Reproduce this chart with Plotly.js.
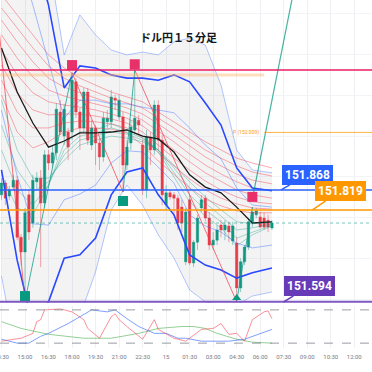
<!DOCTYPE html>
<html><head><meta charset="utf-8">
<script src="https://cdn.plot.ly/plotly-3.0.1.min.js"></script>
<style>html,body{margin:0;padding:0;background:#fff}#chart{width:372px;height:372px}</style>
</head><body><div id="chart"></div>
<script>
// ---- candle data (15-minute bars from 2024-03-14 13:30) ----
const firstCandle = Date.UTC(2024, 2, 14, 13, 30);
const openP  = [151.856,151.885,151.853,151.875,151.892,151.752,151.716,151.856,151.787,151.888,
                151.897,151.836,151.954,151.934,151.959,152.059,152.000,152.010,152.010,152.133,
                152.059,152.020,152.108,151.978,152.020,151.983,151.949,152.035,152.035,152.093,
                152.047,152.047,151.929,151.983,152.015,152.039,151.978,151.868,151.998,151.966,
                152.076,151.990,151.831,151.861,151.856,151.848,151.826,151.692,151.844,151.689,
                151.740,151.824,151.848,151.799,151.733,151.745,151.782,151.770,151.780,151.743,
                151.738,151.628,151.692,151.728,151.790,151.807,151.802,151.799,151.794,151.775];
const highP  = [151.897,151.892,151.878,151.905,151.902,151.760,151.824,151.868,151.905,151.912,
                151.917,151.966,151.966,151.978,152.081,152.088,152.079,152.020,152.155,152.142,
                152.069,152.118,152.118,152.039,152.027,151.995,152.059,152.064,152.113,152.101,
                152.101,152.059,151.990,152.039,152.162,152.052,151.990,152.015,152.010,152.088,
                152.088,152.003,151.880,151.868,151.863,151.856,151.844,151.824,151.856,151.745,
                151.807,151.856,151.856,151.814,151.765,151.782,151.794,151.794,151.790,151.790,
                151.752,151.701,151.733,151.799,151.826,151.824,151.814,151.812,151.807,151.794];
const lowP   = [151.844,151.831,151.844,151.868,151.745,151.684,151.596,151.745,151.775,151.868,
                151.679,151.824,151.917,151.922,151.941,152.003,151.978,151.941,151.990,152.044,
                151.966,152.010,151.978,151.966,151.929,151.917,151.937,152.020,152.020,152.064,
                152.039,151.863,151.917,151.966,152.003,152.003,151.856,151.848,151.929,151.954,
                151.966,151.831,151.819,151.844,151.807,151.770,151.765,151.684,151.684,151.679,
                151.721,151.814,151.790,151.721,151.721,151.733,151.752,151.745,151.740,151.733,
                151.594,151.618,151.684,151.721,151.777,151.799,151.775,151.770,151.765,151.770];
const closeP = [151.885,151.848,151.868,151.892,151.752,151.716,151.812,151.765,151.892,151.897,
                151.836,151.954,151.934,151.959,152.066,152.010,152.066,151.973,152.137,152.059,
                152.020,152.108,151.990,152.020,151.983,151.949,152.044,152.044,152.096,152.088,
                152.088,151.929,151.973,152.022,152.044,152.027,151.868,151.998,151.966,152.076,
                151.990,151.856,151.861,151.851,151.848,151.787,151.787,151.814,151.689,151.740,
                151.799,151.844,151.799,151.733,151.745,151.770,151.770,151.782,151.765,151.780,
                151.628,151.692,151.728,151.790,151.814,151.817,151.777,151.777,151.777,151.787];

// ---- indicator lines, read at hourly points ----
const indTimes = ['2024-03-14 13:30','2024-03-14 14:30','2024-03-14 15:30','2024-03-14 16:30','2024-03-14 17:30',
  '2024-03-14 18:30','2024-03-14 19:30','2024-03-14 20:30','2024-03-14 21:30','2024-03-14 22:30','2024-03-14 23:30',
  '2024-03-15 00:30','2024-03-15 01:30','2024-03-15 02:30','2024-03-15 03:30','2024-03-15 04:30','2024-03-15 05:30','2024-03-15 06:45'];
const smaMid  = [152.216,152.108,152.032,151.973,151.988,152.008,152.008,152.010,152.015,152.000,151.993,151.961,151.905,151.875,151.861,151.826,151.787,151.790];
const bbUp2   = [152.701,152.579,152.456,152.321,152.118,152.172,152.167,152.150,152.142,152.142,152.137,152.150,152.133,152.081,152.027,151.922,151.873,151.866];
const bbLo2   = [151.917,151.696,151.537,151.594,151.701,151.709,151.750,151.856,151.912,151.922,151.856,151.807,151.709,151.684,151.672,151.652,151.665,151.677];
const bbUp1   = [152.627,152.456,152.321,152.182,152.044,152.088,152.088,152.079,152.079,152.071,152.064,152.057,152.020,151.978,151.944,151.873,151.831,151.826];
const bbLo1   = [152.064,151.902,151.785,151.782,151.844,151.858,151.880,151.934,151.964,151.961,151.924,151.885,151.807,151.780,151.765,151.738,151.726,151.733];
const bbUp3   = [152.946,152.824,152.701,152.432,152.199,152.297,152.248,152.211,152.199,152.206,152.199,152.231,152.240,152.223,152.125,151.966,151.917,151.910];
const bbLo3   = [151.657,151.451,151.304,151.402,151.559,151.559,151.667,151.819,151.880,151.831,151.758,151.701,151.623,151.594,151.586,151.586,151.608,151.618];
const redRib1 = [152.346,152.297,152.248,152.199,152.167,152.142,152.125,152.108,152.096,152.084,152.059,152.035,152.010,151.986,151.966,151.946,151.934,151.922];
const redRib2 = [152.314,152.265,152.216,152.172,152.142,152.123,152.108,152.093,152.081,152.069,152.044,152.020,151.993,151.966,151.946,151.927,151.912,151.902];
const redRib3 = [152.284,152.231,152.182,152.142,152.120,152.106,152.093,152.081,152.069,152.054,152.030,152.003,151.976,151.949,151.927,151.907,151.892,151.883];
const redRib4 = [152.248,152.191,152.145,152.113,152.098,152.088,152.079,152.069,152.057,152.039,152.012,151.986,151.956,151.929,151.907,151.888,151.873,151.866];
const redRib5 = [152.211,152.150,152.106,152.084,152.076,152.071,152.064,152.054,152.044,152.025,151.995,151.966,151.937,151.910,151.888,151.868,151.856,151.848];
const redRib6 = [152.174,152.106,152.064,152.052,152.054,152.054,152.049,152.042,152.032,152.010,151.978,151.946,151.917,151.890,151.868,151.851,151.839,151.834];
const redRib7 = [152.137,152.059,152.020,152.020,152.032,152.037,152.035,152.030,152.020,151.995,151.959,151.927,151.895,151.868,151.848,151.834,151.824,151.821];
const redRib8 = [152.101,152.010,151.971,151.986,152.010,152.020,152.020,152.017,152.008,151.978,151.939,151.905,151.873,151.846,151.829,151.817,151.812,151.812];
const grnRib1 = [152.088,151.966,151.897,151.897,151.941,151.978,151.990,152.000,151.995,151.986,151.966,151.929,151.888,151.851,151.819,151.790,151.785,151.790];
const grnRib2 = [152.027,151.917,151.863,151.888,151.954,151.990,152.000,152.010,152.005,151.990,151.966,151.922,151.873,151.836,151.804,151.770,151.775,151.785];
const grnRib3 = [151.966,151.868,151.831,151.880,151.966,152.000,152.008,152.020,152.010,151.995,151.966,151.912,151.856,151.819,151.790,151.750,151.765,151.782];
const grnRib4 = [151.905,151.824,151.807,151.880,151.983,152.010,152.015,152.030,152.015,152.000,151.961,151.900,151.839,151.804,151.775,151.731,151.758,151.780];

// ---- zigzag pivots & projection ----
const zigTimes  = ['2024-03-14 13:15','2024-03-14 15:00','2024-03-14 18:00','2024-03-14 21:15','2024-03-14 22:00','2024-03-15 04:30','2024-03-15 05:30'];
const zigPrices = [152.301,151.596,152.155,151.863,152.162,151.594,151.826];
const projTimes  = ['2024-03-15 05:30','2024-03-15 08:15'];
const projPrices = [151.846,152.378];

// ---- pivot markers ----
const highMarkTimes  = ['2024-03-14 18:00','2024-03-14 22:00','2024-03-15 05:30'];
const highMarkPrices = [152.174,152.176,151.851];
const lowMarkTimes   = ['2024-03-14 15:00','2024-03-14 21:15'];
const lowMarkPrices  = [151.608,151.841];
const lowTriTimes    = ['2024-03-15 04:30'];
const lowTriPrices   = [151.603];

// ---- price levels ----
const levelBlue = 151.868, levelOrange = 151.819, levelPurple = 151.594, levelPink = 152.162;
const levelPeach = 152.150, levelP = 152.009, lastPrice = 151.787;
const levelLabels = ['151.868','151.819','151.594'];
const pLabel = 'P (152.009)';

// ---- oscillator ----
const oscRedTimes = ['2024-03-14 13:30','2024-03-14 14:45','2024-03-14 15:30','2024-03-14 15:45','2024-03-14 16:00','2024-03-14 16:15',
  '2024-03-14 17:15','2024-03-14 18:00','2024-03-14 18:45','2024-03-14 19:00','2024-03-14 19:45','2024-03-14 20:30','2024-03-14 20:45',
  '2024-03-14 21:00','2024-03-14 21:30','2024-03-14 22:30','2024-03-14 23:15','2024-03-14 23:30','2024-03-15 00:30','2024-03-15 01:15',
  '2024-03-15 02:15','2024-03-15 03:00','2024-03-15 03:30','2024-03-15 04:00','2024-03-15 04:30','2024-03-15 05:00','2024-03-15 05:30',
  '2024-03-15 06:15','2024-03-15 06:30','2024-03-15 06:45'];
const oscRed = [23.5,28.8,37.6,58.8,62.3,80,81.7,76.4,62.3,46.5,28.8,67.6,72.9,62.3,50,27,62.3,44.7,28.8,23.5,44.7,46.5,55.3,35.9,37.6,23.5,62.3,76.4,78.2,64.1];
const oscBlueTimes = ['2024-03-14 13:30','2024-03-14 14:30','2024-03-14 15:15','2024-03-14 16:00','2024-03-14 16:30','2024-03-14 17:45',
  '2024-03-14 18:30','2024-03-14 19:15','2024-03-14 20:15','2024-03-14 20:45','2024-03-14 21:30','2024-03-14 22:15','2024-03-14 23:15',
  '2024-03-15 00:00','2024-03-15 00:45','2024-03-15 01:15','2024-03-15 02:15','2024-03-15 04:00','2024-03-15 05:00','2024-03-15 06:00','2024-03-15 06:45'];
const oscBlue = [27,20,20,32.3,37.6,55.3,67.6,80,76.4,80,64.1,50,37.6,37.6,28.8,28.8,23.5,23.5,27,37.6,44.7];
const oscGreenTimes = ['2024-03-14 13:30','2024-03-14 14:45','2024-03-14 16:30','2024-03-14 18:45','2024-03-14 20:30','2024-03-14 22:15',
  '2024-03-14 23:30','2024-03-15 01:00','2024-03-15 01:45','2024-03-15 02:30','2024-03-15 03:15','2024-03-15 04:30','2024-03-15 05:30','2024-03-15 06:45'];
const oscGreen = [58.8,46.5,35.9,28.8,28.8,37.6,46.5,50,50,46.5,37.6,27,21.8,20];
const oscLevels = [80, 20];

// ---- time axis ----
const tickVals = ['2024-03-14 13:30','2024-03-14 15:00','2024-03-14 16:30','2024-03-14 18:00','2024-03-14 19:30','2024-03-14 21:00',
  '2024-03-14 22:30','2024-03-15 00:00','2024-03-15 01:30','2024-03-15 03:00','2024-03-15 04:30','2024-03-15 06:00',
  '2024-03-15 07:30','2024-03-15 09:00','2024-03-15 10:30','2024-03-15 12:00'];
const tickText = ['13:30','15:00','16:30','18:00','19:30','21:00','22:30','15','01:30','03:00','04:30','06:00','07:30','09:00','10:30','12:00'];
const xRange = ['2024-03-14 13:24:20','2024-03-15 13:07:50'];
const titleText = 'ドル円１５分足';

function fmt(ms){ return new Date(ms).toISOString().slice(0,16).replace('T',' '); }
const candleTimes = openP.map((_, i) => fmt(firstCandle + i*15*60000));

const traces = [];
function line(x, y, color, width, extra){ traces.push(Object.assign({type:'scatter', mode:'lines', x, y, line:{color, width}, hoverinfo:'skip', xaxis:'x', yaxis:'y'}, extra||{})); }

line(indTimes, bbUp3, 'rgba(41,98,255,0.35)', 1);
line(indTimes, bbLo3, 'rgba(41,98,255,0.35)', 1, {fill:'tonexty', fillcolor:'rgba(120,123,134,0.09)'});
[redRib1,redRib2,redRib3,redRib4,redRib5,redRib6,redRib7,redRib8].forEach(r => line(indTimes, r, 'rgba(242,54,69,0.42)', 1));
[grnRib1,grnRib2,grnRib3,grnRib4].forEach(g => line(indTimes, g, 'rgba(8,153,129,0.35)', 1));
line(indTimes, bbUp1, 'rgba(41,98,255,0.4)', 1);
line(indTimes, bbLo1, 'rgba(41,98,255,0.4)', 1);
line(indTimes, bbUp2, '#2948ff', 1.6);
line(indTimes, bbLo2, '#2948ff', 1.6);
line(indTimes, smaMid, '#1a1a1a', 1.3);

for (let k = 0; k < zigTimes.length - 1; k++) {
  const up = zigPrices[k+1] > zigPrices[k];
  line([zigTimes[k], zigTimes[k+1]], [zigPrices[k], zigPrices[k+1]], up ? 'rgba(8,153,129,0.75)' : 'rgba(242,54,69,0.7)', 1);
}
line(projTimes, projPrices, 'rgba(8,153,129,0.75)', 1.2);

traces.push({type:'candlestick', x:candleTimes, open:openP, high:highP, low:lowP, close:closeP, xaxis:'x', yaxis:'y',
  increasing:{line:{color:'rgba(8,153,129,0.45)', width:1}, fillcolor:'#089981'},
  decreasing:{line:{color:'rgba(242,54,69,0.45)', width:1}, fillcolor:'#f23645'},
  whiskerwidth:0, hoverinfo:'skip'});

traces.push({type:'scatter', mode:'markers', x:highMarkTimes, y:highMarkPrices, xaxis:'x', yaxis:'y', hoverinfo:'skip',
  marker:{symbol:'square', size:10, color:'#e8306a', line:{color:'#e8306a', width:0}}});
traces.push({type:'scatter', mode:'markers', x:lowMarkTimes, y:lowMarkPrices, xaxis:'x', yaxis:'y', hoverinfo:'skip',
  marker:{symbol:'square', size:10, color:'#089981'}});
traces.push({type:'scatter', mode:'markers', x:lowTriTimes, y:lowTriPrices, xaxis:'x', yaxis:'y', hoverinfo:'skip',
  marker:{symbol:'triangle-up', size:8, color:'#089981'}});

function osc(x, y, color){ traces.push({type:'scatter', mode:'lines', x, y, xaxis:'x', yaxis:'y2', hoverinfo:'skip', line:{color, width:1}}); }
osc(oscGreenTimes, oscGreen, 'rgba(76,175,80,0.6)');
osc(oscBlueTimes, oscBlue, 'rgba(41,98,255,0.6)');
osc(oscRedTimes, oscRed, 'rgba(242,54,69,0.55)');

const shapes = [];
function hline(y, color, width, x0, x1, yref, dash){
  shapes.push({type:'line', xref: (x0===null?'paper':'x'), yref: yref||'y', x0: x0===null?0:x0, x1: x0===null?1:x1, y0:y, y1:y,
    line:{color, width, dash: dash||'solid'}});
}
hline(levelPeach, 'rgba(255,183,110,0.45)', 3, xRange[0], '2024-03-15 06:15');
hline(levelPink, '#e91e63', 1.5, null);
hline(levelP, 'rgba(255,152,0,0.75)', 1, '2024-03-15 06:15', xRange[1]);
hline(lastPrice, 'rgba(8,153,129,0.55)', 1, null, null, 'y', 'dot');
hline(levelBlue, '#2962ff', 1.5, null);
hline(levelOrange, '#ff9800', 1.5, null);
hline(levelPurple, '#7e57c2', 2, null);
oscLevels.forEach(v => hline(v, 'rgba(120,123,134,0.75)', 1, null, null, 'y2', 'dash'));

function tag(text, xTip, yTip, ax, ay, bg){
  return {x:xTip, y:yTip, xref:'x', yref:'y', text:'<b>'+text+'</b>', showarrow:true, arrowhead:0, arrowwidth:1.5, arrowcolor:bg,
    ax, ay, bgcolor:bg, bordercolor:bg, borderpad:3, borderwidth:0, font:{family:'Roboto', size:12, color:'#ffffff'}};
}
const annotations = [
  {xref:'paper', yref:'paper', x:0.48, y:0.922, text:'<b>'+titleText+'</b>', showarrow:false,
   font:{family:'Noto Sans CJK JP', size:11, color:'#131722'}},
  tag(levelLabels[0], '2024-03-15 07:20', levelBlue, 26, -15, '#2962ff'),
  tag(levelLabels[1], '2024-03-15 09:20', levelOrange, 28, -19, '#ff9800'),
  tag(levelLabels[2], '2024-03-15 07:30', levelPurple, 26, -16, '#673ab7'),
  {x:'2024-03-15 06:15', y:levelP, xref:'x', yref:'y', text:pLabel, showarrow:false, xanchor:'right', xshift:-3,
   font:{family:'Roboto', size:5, color:'#ff9800'}}
];

const layout = {
  width:372, height:372, margin:{l:0, r:0, t:0, b:24}, paper_bgcolor:'#ffffff', plot_bgcolor:'#ffffff', showlegend:false,
  boxgap:0.12,
  xaxis:{type:'date', range:xRange, anchor:'y2', tickvals:tickVals, ticktext:tickText, showgrid:true, gridcolor:'#eef0f4',
    tickfont:{family:'Roboto', size:6, color:'#787b86'}, rangeslider:{visible:false}, zeroline:false, showline:false, ticks:'',
    ticklabeloverflow:'allow', ticklabelstandoff:4},
  yaxis:{domain:[0.1293,1], range:[151.591,152.3335], showticklabels:false, showgrid:true, gridcolor:'#f3f4f7', dtick:0.1, zeroline:false},
  yaxis2:{domain:[0,0.1207], range:[11.2,87], showticklabels:false, showgrid:false, zeroline:false},
  shapes, annotations
};
Plotly.newPlot('chart', traces, layout, {displayModeBar:false, staticPlot:true});
</script>
</body></html>
